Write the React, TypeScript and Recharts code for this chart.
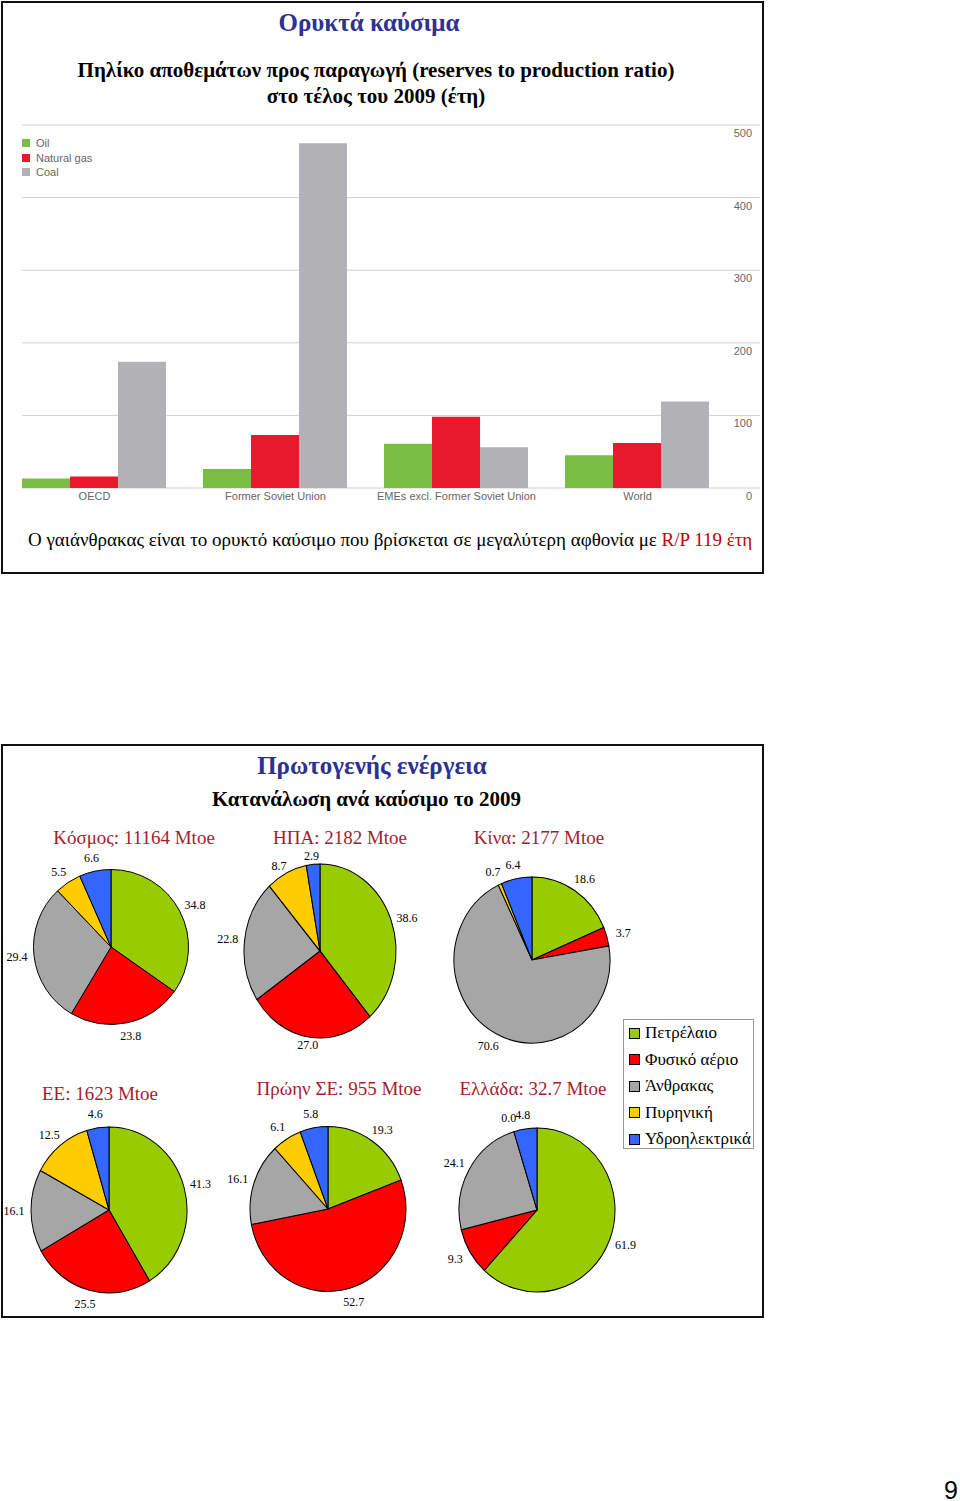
import { BarChart, Bar, XAxis, YAxis, CartesianGrid, PieChart, Pie, Cell } from "recharts";

// R/P ratio at end of 2009 (years)
const regions = ["OECD", "Former Soviet Union", "EMEs excl. Former Soviet Union", "World"];
const oilRP = [13, 26, 61, 45];
const gasRP = [16, 73, 98, 62];
const coalRP = [174, 475, 56, 119];
const rpTicks = [0, 100, 200, 300, 400, 500];

const barSeries = [
  { key: "oil", name: "Oil", color: "#79bd42" },
  { key: "gas", name: "Natural gas", color: "#e8192c" },
  { key: "coal", name: "Coal", color: "#b2b2b6" },
];

// primary energy shares 2009 (%)
const fuels = ["Πετρέλαιο", "Φυσικό αέριο", "Άνθρακας", "Πυρηνική", "Υδροηλεκτρικά"];
const fuelColors = ["#99cc00", "#ff0000", "#a6a6a6", "#ffcc00", "#3366ff"];
const worldShares = [34.8, 23.8, 29.4, 5.5, 6.6];
const usaShares = [38.6, 27.0, 22.8, 8.7, 2.9];
const chinaShares = [18.6, 3.7, 70.6, 0.7, 6.4];
const euShares = [41.3, 25.5, 16.1, 12.5, 4.6];
const fsuShares = [19.3, 52.7, 16.1, 6.1, 5.8];
const greeceShares = [61.9, 9.3, 24.1, 0.0, 4.8];

const serif = '"Liberation Serif", "Times New Roman", serif';
const sans = '"Liberation Sans", Arial, sans-serif';
const titleRed = "#a51c30";

const barData = regions.map((r, i) => ({ region: r, oil: oilRP[i], gas: gasRP[i], coal: coalRP[i] }));

const RAD = Math.PI / 180;

// labels sit just outside the (possibly squashed) pie, drawn unstretched
const makeLabel = (k: number, ry: number, ly: number) => (p: any) => {
  const a = -p.midAngle * RAD;
  const x = p.cx + (p.outerRadius + 17) * Math.cos(a);
  const y = p.cy + ((ry + ly) / k) * Math.sin(a);
  return (
    <g transform={`translate(${x},${y}) scale(1,${1 / k})`}>
      <text x={0} y={0} textAnchor="middle" dominantBaseline="central" fontFamily={serif} fontSize={12} fill="#000">
        {Number(p.value).toFixed(1)}
      </text>
    </g>
  );
};

const PieBlock = ({ shares, cx, cy, rx, ry, ly = 14 }: { shares: number[]; cx: number; cy: number; rx: number; ry: number; ly?: number }) => {
  const k = ry / rx;
  const data = fuels.map((f, i) => ({ name: f, value: shares[i] }));
  return (
    <div
      style={{
        position: "absolute",
        left: cx - 120,
        top: cy - 120,
        width: 240,
        height: 240,
        transform: `scaleY(${k})`,
        transformOrigin: "120px 120px",
      }}
    >
      <PieChart width={240} height={240} margin={{ top: 0, right: 0, bottom: 0, left: 0 }}>
        <Pie
          data={data}
          dataKey="value"
          cx={120}
          cy={120}
          outerRadius={rx}
          startAngle={90}
          endAngle={-270}
          stroke="#000"
          strokeWidth={1}
          label={makeLabel(k, ry, ly)}
          labelLine={false}
          isAnimationActive={false}
        >
          {data.map((d, i) => (
            <Cell key={d.name} fill={fuelColors[i]} />
          ))}
        </Pie>
      </PieChart>
    </div>
  );
};

const PieTitle = ({ text, x, y }: { text: string; x: number; y: number }) => (
  <div
    style={{
      position: "absolute",
      left: x - 120,
      top: y - 12,
      width: 240,
      textAlign: "center",
      fontSize: 19,
      lineHeight: "24px",
      color: titleRed,
      whiteSpace: "nowrap",
    }}
  >
    {text}
  </div>
);

const RightTick = ({ x, y, payload }: any) => (
  <text x={x - 8} y={y + 12} textAnchor="end" fontFamily={sans} fontSize={11} fill="#666">
    {payload.value}
  </text>
);

const frame = (left: number, top: number, width: number, height: number): React.CSSProperties => ({
  position: "absolute",
  left,
  top,
  width,
  height,
  border: "2px solid #111",
  boxSizing: "border-box",
});

export default function App() {
  return (
    <div style={{ position: "absolute", left: 0, top: 0, width: 960, height: 1501, background: "#fff", fontFamily: serif }}>
      <div style={frame(1, 1, 763, 573)} />
      <div style={frame(1, 744, 763, 574)} />

      <div style={{ position: "absolute", left: 0, top: 10, width: 738, textAlign: "center", fontSize: 25, lineHeight: "25px", fontWeight: "bold", color: "#2e3192" }}>
        Ορυκτά καύσιμα
      </div>
      <div style={{ position: "absolute", left: 0, top: 57, width: 752, textAlign: "center", fontSize: 21, lineHeight: "26px", fontWeight: "bold", color: "#000" }}>
        Πηλίκο αποθεμάτων προς παραγωγή (reserves to production ratio)
        <br />
        στο τέλος του 2009 (έτη)
      </div>

      <div style={{ position: "absolute", left: 20, top: 136, fontFamily: sans, fontSize: 11, lineHeight: "14.5px", color: "#666" }}>
        {barSeries.map((s) => (
          <div key={s.key} style={{ display: "flex", alignItems: "center" }}>
            <span style={{ display: "inline-block", width: 8, height: 8, background: s.color, marginRight: 6, marginLeft: 2 }} />
            {s.name}
          </div>
        ))}
      </div>

      <div style={{ position: "absolute", left: 0, top: 110 }}>
        <BarChart width={800} height={400} data={barData} margin={{ top: 15, right: 10, bottom: 2, left: 22 }} barCategoryGap={18} barGap={0}>
          <CartesianGrid vertical={false} stroke="#cfcfcf" />
          <XAxis
            dataKey="region"
            height={20}
            axisLine={false}
            tickLine={false}
            tickSize={0}
            tickMargin={4}
            padding={{ left: -18, right: 32 }}
            tick={{ fontFamily: sans, fontSize: 11, fill: "#666" }}
            interval={0}
          />
          <YAxis
            orientation="right"
            width={30}
            domain={[0, 500]}
            ticks={rpTicks}
            axisLine={false}
            tickLine={false}
            tickSize={0}
            tickMargin={0}
            tick={<RightTick />}
          />
          {barSeries.map((s) => (
            <Bar key={s.key} dataKey={s.key} name={s.name} fill={s.color} isAnimationActive={false} />
          ))}
        </BarChart>
      </div>

      <div style={{ position: "absolute", left: 28, top: 528, fontSize: 19, lineHeight: "24px", whiteSpace: "nowrap", color: "#000" }}>
        Ο γαιάνθρακας είναι το ορυκτό καύσιμο που βρίσκεται σε μεγαλύτερη αφθονία με <span style={{ color: "#c00000" }}>R/P 119 έτη</span>
      </div>

      <div style={{ position: "absolute", left: 0, top: 753, width: 744, textAlign: "center", fontSize: 25, lineHeight: "25px", fontWeight: "bold", color: "#2e3192" }}>
        Πρωτογενής ενέργεια
      </div>
      <div style={{ position: "absolute", left: 0, top: 787, width: 733, textAlign: "center", fontSize: 21, lineHeight: "24px", fontWeight: "bold", color: "#000" }}>
        Κατανάλωση ανά καύσιμο το 2009
      </div>

      <PieTitle text="Κόσμος: 11164 Mtoe" x={134} y={838} />
      <PieTitle text="ΗΠΑ: 2182 Mtoe" x={340} y={838} />
      <PieTitle text="Κίνα: 2177 Mtoe" x={539} y={838} />
      <PieTitle text="ΕΕ: 1623 Mtoe" x={100} y={1094} />
      <PieTitle text="Πρώην ΣΕ: 955 Mtoe" x={339} y={1089} />
      <PieTitle text="Ελλάδα: 32.7 Mtoe" x={533} y={1089} />

      <PieBlock shares={worldShares} cx={111} cy={946.5} rx={77.5} ry={77.5} ly={13} />
      <PieBlock shares={usaShares} cx={320} cy={951} rx={76} ry={87} ly={8} />
      <PieBlock shares={chinaShares} cx={531.5} cy={959.5} rx={78} ry={83} />
      <PieBlock shares={euShares} cx={108.5} cy={1209.5} rx={78} ry={83} />
      <PieBlock shares={fsuShares} cx={327.5} cy={1209} rx={78} ry={82.5} />
      <PieBlock shares={greeceShares} cx={537} cy={1209.7} rx={78} ry={82} />

      <div
        style={{
          position: "absolute",
          left: 623,
          top: 1019,
          width: 131,
          height: 130,
          border: "1px solid #999",
          boxSizing: "border-box",
          padding: "0 0 0 5px",
          fontSize: 17,
          lineHeight: "26.5px",
        }}
      >
        {fuels.map((f, i) => (
          <div key={f} style={{ display: "flex", alignItems: "center", whiteSpace: "nowrap" }}>
            <span style={{ display: "inline-block", width: 9, height: 9, background: fuelColors[i], border: "1px solid #000", marginRight: 5 }} />
            {f}
          </div>
        ))}
      </div>

      <div style={{ position: "absolute", left: 944, top: 1477, fontFamily: sans, fontSize: 25, lineHeight: "26px", color: "#000" }}>9</div>
    </div>
  );
}
